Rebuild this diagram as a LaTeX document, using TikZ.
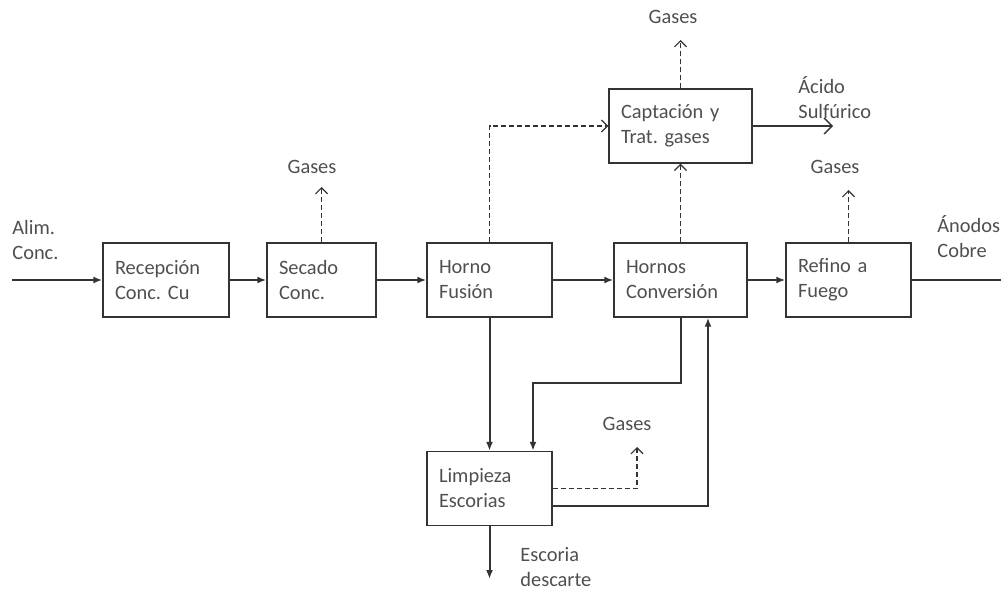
\documentclass[tikz,border=0pt]{standalone}
\usepackage{fontspec}
\setmainfont{Carlito}
\usetikzlibrary{arrows.meta}
\definecolor{gristexto}{HTML}{4F4F4F}
\definecolor{grislinea}{HTML}{333333}
\begin{document}
\frenchspacing
\begin{tikzpicture}[x=0.5pt,y=-0.5pt]
			% Estilos (MODIFICABLES)
			\tikzstyle{caja}=[draw=grislinea,line width=0.7pt,minimum height=37pt,inner xsep=6pt,align=left,text=gristexto]
			\tikzstyle{flecha}=[-{Latex[length=4.5pt,width=3.5pt]},draw=grislinea,line width=1pt]
			\tikzstyle{linea}=[-,draw=grislinea,line width=1pt]
			\tikzstyle{salida}=[-{Straight Barb[length=4pt,width=8pt]},draw=grislinea,line width=0.7pt]
			\tikzstyle{gas}=[-{Straight Barb[length=3pt,width=6pt]},draw=grislinea,line width=0.6pt,dash pattern=on 2.5pt off 1.5pt]
			\tikzstyle{comentario}=[text=gristexto,align=left,inner sep=0pt]
			\useasboundingbox (0,0) rectangle (1001,589);
			\fontsize{10.2}{12.5}\selectfont
			% Nodos (MODIFICABLES)
			\node[caja,text width=51pt] (rec) at (166,280) {Recepción\\Conc. Cu};
			\node[caja,text width=42.5pt] (sec) at (321.5,280) {Secado\\Conc.};
			\node[caja,text width=50.5pt] (hor) at (489.5,280) {Horno\\Fusión};
			\node[caja,text width=54.5pt] (conv) at (680.5,280) {Hornos\\Conversión};
			\node[caja,text width=50.5pt] (ref) at (848.5,280) {Refino a\\Fuego};
			\node[caja,text width=59.5pt] (cap) at (680.5,126) {Captación y\\Trat. gases};
			\node[caja,text width=50.5pt] (lim) at (489.5,488.5) {Limpieza\\Escorias};
			%
			\coordinate (ent) at (12,280);
			\coordinate (sal) at (1001,280);
			\coordinate (gsec) at (321.5,187);
			\coordinate (gcap) at (680.5,40);
			\coordinate (acido) at (833,126);
			\coordinate (gref) at (848.5,190);
			\coordinate (glim) at (637,447);
			\coordinate (codo) at (533,383);
			\coordinate (ret) at (708,506);
			\coordinate (esc) at (489.5,579);
			%
			\node[comentario,anchor=west] (alim) at (12,240) {Alim.\\Conc.};
			\node[comentario] (tsec) at (312,167) {Gases};
			\node[comentario] (tcap) at (673,17) {Gases};
			\node[comentario,anchor=west] (tacido) at (798,98) {Ácido\\Sulfúrico};
			\node[comentario] (tref) at (835,167) {Gases};
			\node[comentario,anchor=west] (tanodo) at (937,237) {Ánodos\\Cobre};
			\node[comentario] (tlim) at (627,424) {Gases};
			\node[comentario,anchor=west] (tesc) at (520,567) {Escoria\\descarte};
			% Arcos (MODIFICABLES : Estilos)
			\draw[flecha] (ent)--(rec.west);
			\draw[flecha] (rec.east)--(sec.west);
			\draw[flecha] (sec.east)--(hor.west);
			\draw[flecha] (hor.east)--(conv.west);
			\draw[flecha] (conv.east)--(ref.west);
			\draw[linea] (ref.east)--(sal);
			\draw[salida] (cap.east)--(acido);
			\draw[flecha] (hor.south)--(lim.north);
			\draw[flecha] (conv.south)|-(codo)--(codo |- lim.north);
			\draw[flecha] (lim.east |- ret)--(ret)--(ret |- conv.south);
			\draw[flecha] (lim.south)--(esc);
			%
			\draw[gas] (sec.north)--(gsec);
			\draw[gas] (hor.north)|-(cap.west);
			\draw[gas] (cap.north)--(gcap);
			\draw[gas] (conv.north)--(cap.south);
			\draw[gas] (ref.north)--(gref);
			\draw[gas] (lim.east)-|(glim);
\end{tikzpicture}
\end{document}
